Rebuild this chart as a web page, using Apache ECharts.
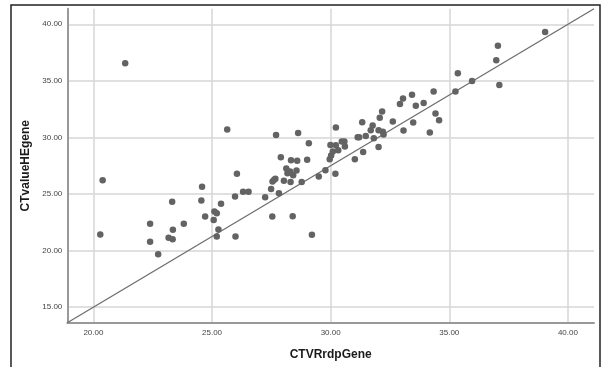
<!DOCTYPE html>
<html><head><meta charset="utf-8">
<script src="https://cdn.jsdelivr.net/npm/echarts@6/dist/echarts.min.js"></script>
<style>html,body{margin:0;padding:0;background:#fff}#c{width:606px;height:367px}</style>
</head><body><div id="c"></div>
<script>
const xName = 'CTVRrdpGene';
const yName = 'CTvalueHEgene';
const xVals = [20.29,20.39,21.34,22.39,22.39,22.73,23.32,23.35,23.17,23.34,23.81,24.58,24.55,24.71,25.07,25.10,25.20,25.27,25.20,25.38,
25.64,25.97,25.99,26.05,26.31,26.54,27.24,27.54,27.49,27.55,27.62,27.67,27.70,27.82,27.90,28.03,28.13,28.18,28.29,28.31,
28.33,28.40,28.42,28.56,28.59,28.63,28.78,29.01,29.08,29.21,29.50,29.78,29.96,29.99,30.02,30.09,30.22,30.20,30.22,30.32,
30.47,30.58,30.60,31.02,31.14,31.20,31.33,31.37,31.48,31.69,31.77,31.82,32.02,32.07,32.02,32.17,32.20,32.23,32.62,32.92,
33.05,33.07,33.43,33.48,33.59,33.92,34.18,34.34,34.42,34.57,35.26,35.36,35.96,36.98,37.05,37.11,39.04];
const yVals = [21.42,26.22,36.55,22.36,20.77,19.68,24.31,21.83,21.13,21.01,22.36,25.63,24.42,23.01,22.71,23.45,23.30,21.86,21.24,24.13,
30.69,24.78,21.24,26.78,25.19,25.19,24.72,23.00,25.45,26.10,26.25,26.34,30.22,25.07,28.25,26.16,27.25,26.84,26.98,26.07,
27.99,23.04,26.66,27.07,27.93,30.40,26.07,28.02,29.49,21.39,26.54,27.10,28.07,29.34,28.40,28.75,30.87,26.78,29.31,28.87,
29.63,29.63,29.19,28.07,30.02,30.02,31.34,28.72,30.13,30.64,31.05,29.93,30.64,31.73,29.16,32.29,30.49,30.25,31.40,32.96,
33.43,30.61,33.76,31.31,32.79,33.05,30.43,34.05,32.11,31.52,34.05,35.67,34.99,36.82,38.09,34.64,39.32];
const fitX = [18.9, 41.1];
const fitY = [13.625, 41.375];
const xTicks = [20,25,30,35,40];
const yTicks = [15,20,25,30,35,40];

const pts = xVals.map((x,i)=>[x,yVals[i]]);
const fit = fitX.map((x,i)=>[x,fitY[i]]);
const chart = echarts.init(document.getElementById('c'), null, {renderer:'canvas'});
const lbl = {fontSize:8, color:'#444', fontFamily:'Arial, Liberation Sans, sans-serif', formatter:v=>Number(v).toFixed(2)};
const nameStyle = {fontSize:12, fontWeight:'bold', color:'#1a1a1a', fontFamily:'Arial, Liberation Sans, sans-serif'};
chart.setOption({
  animation:false,
  backgroundColor:'#fff',
  grid:{left:67.3, right:12, top:8.7, bottom:44.3, containLabel:false},
  graphic:[{type:'rect', shape:{x:11,y:5,width:589,height:380}, style:{fill:'none', stroke:'#222', lineWidth:1.5}, silent:true, z:100}],
  xAxis:{type:'value', min:fitX[0], max:fitX[1], name:xName, nameLocation:'middle', nameGap:26, nameTextStyle:nameStyle,
    axisLine:{show:true, onZero:false, lineStyle:{color:'#999', width:2}},
    axisTick:{show:false},
    axisLabel:Object.assign({margin:6, customValues:xTicks}, lbl),
    splitLine:{show:true, showMinLine:false, showMaxLine:false, lineStyle:{color:'#d6d6d6', width:1.5}}},
  yAxis:{type:'value', min:fitY[0], max:fitY[1], name:yName, nameLocation:'middle', nameGap:23, nameTextStyle:nameStyle,
    axisLine:{show:true, onZero:false, lineStyle:{color:'#999', width:2}},
    axisTick:{show:false},
    axisLabel:Object.assign({margin:5, customValues:yTicks}, lbl),
    splitLine:{show:true, showMinLine:false, showMaxLine:false, lineStyle:{color:'#d6d6d6', width:1.5}}},
  series:[
    {type:'line', data:fit, symbol:'none', lineStyle:{color:'#6e6e6e', width:1.3}, z:2},
    {type:'scatter', data:pts, symbolSize:6.5, itemStyle:{color:'#636363', opacity:1}, z:3}
  ]
});
</script></body></html>
